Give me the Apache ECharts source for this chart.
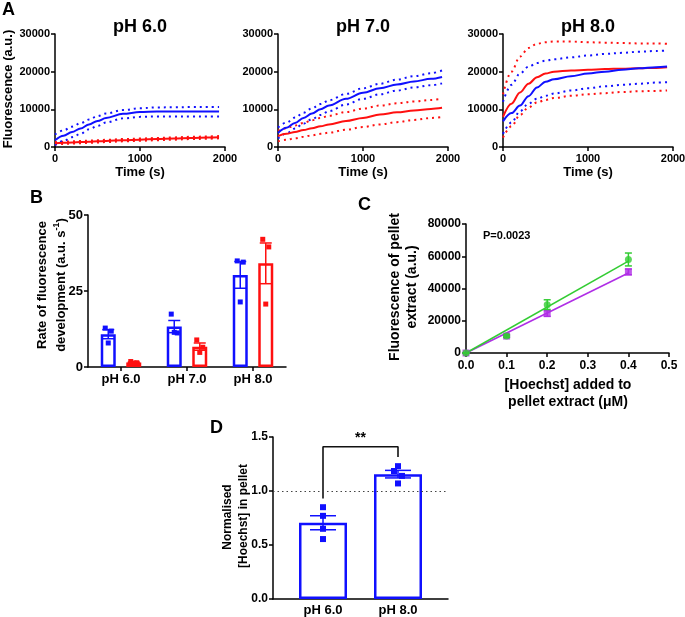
<!DOCTYPE html>
<html><head><meta charset="utf-8">
<script src="https://cdn.jsdelivr.net/npm/echarts@6/dist/echarts.min.js"></script>
<style>html,body{margin:0;padding:0;background:#fff}#c{width:685px;height:617px}</style>
</head><body><div id="c"></div>
<script>
// ---------- Panel A data (fluorescence vs time) ----------
const timeS = [0,100,200,300,400,500,600,800,1000,1200,1400,1600,1800,1930];
const aTitles = ['pH 6.0','pH 7.0','pH 8.0'];
const aXTicks = [0,1000,2000];
const aYTicks = [0,10000,20000,30000];

const blue6Mean  = [1800,3000,4000,4900,6000,6900,7700,8800,9300,9400,9450,9450,9450,9400];
const blue6Upper = [3300,4400,5400,6300,7300,8200,8900,9800,10300,10500,10550,10600,10600,10600];
const blue6Lower = [500,1600,2600,3500,4700,5600,6500,7600,8000,8100,8100,8100,8100,8100];
const red6Mean   = [1000,1100,1200,1300,1400,1500,1600,1800,1950,2100,2250,2400,2500,2600];
const red6Upper  = [1300,1400,1500,1600,1700,1800,1900,2100,2250,2400,2550,2700,2800,2900];
const red6Lower  = [700,800,900,1000,1100,1200,1300,1500,1650,1800,1950,2100,2200,2300];

const blue7Mean  = [3700,5100,6400,7700,8900,10000,11000,12800,14400,15600,16600,17400,18100,18600];
const blue7Upper = [5200,6500,7800,9100,10300,11400,12400,14100,15600,16800,17900,18800,19600,20300];
const blue7Lower = [2300,3600,4900,6200,7400,8500,9500,11300,12800,14000,15000,15800,16400,16900];
const red7Mean   = [2900,3500,4000,4500,5000,5500,6000,6900,7700,8600,9200,9700,10100,10400];
const red7Upper  = [4300,5000,5700,6400,7100,7700,8300,9300,10200,11000,11600,12100,12500,12800];
const red7Lower  = [1500,1900,2300,2700,3100,3500,3800,4600,5300,6000,6600,7200,7700,8000];

const blue8Mean  = [6800,9000,11000,13500,15800,17300,18000,18800,19500,20000,20500,20900,21200,21400];
const blue8Upper = [12000,16500,19500,21300,22300,22900,23300,23800,24300,24700,25000,25300,25500,25600];
const blue8Lower = [3500,6500,9500,11500,12800,13600,14200,15000,15600,16100,16500,16800,17100,17200];
const red8Mean   = [8000,11500,14500,16800,18500,19500,20000,20300,20500,20700,20800,20900,21000,21200];
const red8Upper  = [14000,20000,24000,26300,27400,27800,28000,28000,27800,27700,27600,27500,27500,27400];
const red8Lower  = [2500,5500,8500,10500,11800,12500,13000,13600,14000,14300,14600,14800,14900,15000];

// ---------- Panel B data (rate) ----------
const bCategories = ['pH 6.0','pH 7.0','pH 8.0'];
const rateBlueMean = [10.8, 13.3, 30.3];
const rateBlueSem  = [1.5, 2.0, 4.4];
const rateRedMean  = [1.5, 6.7, 34.1];
const rateRedSem   = [0.15, 1.2, 6.7];
const rateBluePts  = [[12.8,11.8,7.9],[17.4,11.2,11.4],[34.9,34.5,21.4]];
const rateRedPts   = [[1.8,1.4,1.3],[8.9,6.5,4.8],[42.0,39.5,20.7]];
const bYTicks = [0,25,50];

// ---------- Panel C data (standard curves) ----------
const hoechstConc = [0, 0.1, 0.2, 0.4];
const greenMean   = [0, 10500, 30000, 58000];
const greenSem    = [0, 700, 3000, 4000];
const purpleMean  = [0, 10500, 24500, 50300];
const purpleSem   = [0, 700, 1800, 1800];
const greenFit    = [[0,0],[0.4,57000]];
const purpleFit   = [[0,0],[0.4,49600]];
const pValueText  = 'P=0.0023';

// ---------- Panel D data (normalised Hoechst) ----------
const dCategories = ['pH 6.0','pH 8.0'];
const dMean = [0.706, 1.156];
const dSem  = [0.065, 0.035];
const dPts  = [[0.85,0.77,0.65,0.555],[1.23,1.185,1.14,1.07]];
const dRefLine = 1.0;
const dBracket = {start:0.93, top:1.41, end:1.315, label:'**'};

// ---------- styling ----------
const FF = '"Liberation Sans", Arial, Helvetica, sans-serif';
const BLUE = '#1010ff', RED = '#ff1010', GREEN = '#33cc33', PURPLE = '#b02ee6';
const plain = v => String(v);

function axisCommon(fs, margin, tick) {
  return {
    axisLine: {show:true, lineStyle:{color:'#000', width:1.5}},
    axisTick: {show: tick !== false, length:4, lineStyle:{color:'#000', width:1.5}},
    axisLabel: {color:'#000', fontWeight:'bold', fontSize:fs, fontFamily:FF, margin:margin, formatter:plain},
    splitLine: {show:false}
  };
}

const grids = [
  {left:55, top:34, width:170, height:113},
  {left:278, top:34, width:170, height:113},
  {left:503, top:34, width:170, height:113},
  {left:88, top:215, width:198, height:152},
  {left:466, top:224, width:203, height:129},
  {left:273, top:437, width:175, height:162}
].map(g => Object.assign({outerBoundsMode:'none', containLabel:false}, g));

const xAxes = [], yAxes = [];
for (let i = 0; i < 3; i++) {
  xAxes.push(Object.assign({type:'value', gridIndex:i, min:aXTicks[0], max:aXTicks[aXTicks.length-1],
    interval:aXTicks[1]-aXTicks[0]}, axisCommon(11, 6)));
  yAxes.push(Object.assign({type:'value', gridIndex:i, min:aYTicks[0], max:aYTicks[aYTicks.length-1],
    interval:aYTicks[1]-aYTicks[0]}, axisCommon(11, 5)));
}
// B
xAxes.push(Object.assign({type:'category', gridIndex:3, data:bCategories, boundaryGap:true}, axisCommon(13, 6)));
xAxes[3].axisTick.alignWithLabel = true;
yAxes.push(Object.assign({type:'value', gridIndex:3, min:bYTicks[0], max:bYTicks[2], interval:bYTicks[1]}, axisCommon(13, 5)));
// C
xAxes.push(Object.assign({type:'value', gridIndex:4, min:0, max:0.5, interval:0.1}, axisCommon(12, 7)));
xAxes[4].axisLabel.formatter = v => v.toFixed(1);
yAxes.push(Object.assign({type:'value', gridIndex:4, min:0, max:80000, interval:20000}, axisCommon(12, 5)));
// D
const dPos = dCategories.map((c,i) => 1 + 1.5*i);
xAxes.push(Object.assign({type:'value', gridIndex:5, min:0, max:3.5, interval:0.5}, axisCommon(13, 5, false)));
xAxes[5].axisLabel.formatter = v => { const k = dPos.findIndex(p => Math.abs(p - v) < 1e-6); return k >= 0 ? dCategories[k] : ''; };
yAxes.push(Object.assign({type:'value', gridIndex:5, min:0, max:1.5, interval:0.5}, axisCommon(12, 5)));
yAxes[5].axisLabel.formatter = v => v.toFixed(1);

const series = [];

// Panel A lines
const aSets = [
  [blue6Mean, blue6Upper, blue6Lower, red6Mean, red6Upper, red6Lower],
  [blue7Mean, blue7Upper, blue7Lower, red7Mean, red7Upper, red7Lower],
  [blue8Mean, blue8Upper, blue8Lower, red8Mean, red8Upper, red8Lower]
];
function aLine(gi, vals, color, dotted) {
  return {type:'line', xAxisIndex:gi, yAxisIndex:gi, data: timeS.map((t,k) => [t, vals[k]]),
    symbol:'none', smooth:0.35, smoothMonotone:'x', silent:true,
    lineStyle:{color:color, width:2, type: dotted ? [2,4] : 'solid'}, z: dotted ? 2 : 3};
}
aSets.forEach((s, gi) => {
  series.push(aLine(gi, s[4], RED, true), aLine(gi, s[5], RED, true));
  series.push(aLine(gi, s[1], BLUE, true), aLine(gi, s[2], BLUE, true));
  series.push(aLine(gi, s[3], RED, false), aLine(gi, s[0], BLUE, false));
});

// Panel B bars
const bBarW = 15, bGap = 10.5, bOff = (bBarW + bGap) / 2;
function bBar(vals, color) {
  return {type:'bar', xAxisIndex:3, yAxisIndex:3, data: vals, barWidth:bBarW, barGap:(bGap/bBarW*100)+'%',
    itemStyle:{color:'#fff', borderColor:color, borderWidth:2.5}, silent:true, z:2};
}
series.push(bBar(rateBlueMean, BLUE), bBar(rateRedMean, RED));

function errSeries(xi, yi, data, color, dx, cap, lw) {
  return {type:'custom', xAxisIndex:xi, yAxisIndex:yi, data:data, silent:true, z:5,
    renderItem: (params, api) => {
      const x = api.value(0), m = api.value(1), s = api.value(2);
      const t = api.coord([x, m + s]), b = api.coord([x, m - s]);
      const cx = t[0] + dx;
      const st = {stroke:color, lineWidth:lw, fill:null};
      return {type:'group', children:[
        {type:'line', shape:{x1:cx, y1:t[1], x2:cx, y2:b[1]}, style:st},
        {type:'line', shape:{x1:cx-cap, y1:t[1], x2:cx+cap, y2:t[1]}, style:st},
        {type:'line', shape:{x1:cx-cap, y1:b[1], x2:cx+cap, y2:b[1]}, style:st}
      ]};
    }};
}
function ptSeries(xi, yi, data, color, dx, jitter, size) {
  return {type:'custom', xAxisIndex:xi, yAxisIndex:yi, data:data, silent:true, z:6,
    renderItem: (params, api) => {
      const p = api.coord([api.value(0), api.value(1)]);
      const j = jitter[api.value(2) % jitter.length];
      return {type:'rect', shape:{x:p[0] + dx + j - size/2, y:p[1] - size/2, width:size, height:size},
        style:{fill:color}};
    }};
}
series.push(errSeries(3, 3, rateBlueMean.map((m,i) => [i, m, rateBlueSem[i]]), BLUE, -bOff, 6, 1.5));
series.push(errSeries(3, 3, rateRedMean.map((m,i) => [i, m, rateRedSem[i]]), RED, bOff, 6, 1.5));
const bJit = [-3, 3, 0];
const bBlueData = [], bRedData = [];
rateBluePts.forEach((arr, g) => arr.forEach((v, k) => bBlueData.push([g, v, k])));
rateRedPts.forEach((arr, g) => arr.forEach((v, k) => bRedData.push([g, v, k])));
series.push(ptSeries(3, 3, bBlueData, BLUE, -bOff, bJit, 5));
series.push(ptSeries(3, 3, bRedData, RED, bOff, bJit, 5));

// Panel C
series.push({type:'line', xAxisIndex:4, yAxisIndex:4, data:purpleFit, symbol:'none', silent:true,
  lineStyle:{color:PURPLE, width:1.6}, z:2});
series.push({type:'line', xAxisIndex:4, yAxisIndex:4, data:greenFit, symbol:'none', silent:true,
  lineStyle:{color:GREEN, width:1.6}, z:2});
series.push(errSeries(4, 4, hoechstConc.map((c,i) => [c, purpleMean[i], purpleSem[i]]), PURPLE, 0, 3.5, 1.5));
series.push({type:'scatter', xAxisIndex:4, yAxisIndex:4, data:hoechstConc.map((c,i) => [c, purpleMean[i]]),
  symbol:'rect', symbolSize:7, itemStyle:{color:PURPLE}, silent:true, z:4});
series.push(errSeries(4, 4, hoechstConc.map((c,i) => [c, greenMean[i], greenSem[i]]), GREEN, 0, 3.5, 1.5));
series.push({type:'scatter', xAxisIndex:4, yAxisIndex:4, data:hoechstConc.map((c,i) => [c, greenMean[i]]),
  symbol:'circle', symbolSize:7, itemStyle:{color:GREEN}, silent:true, z:7});

// Panel D
series.push({type:'bar', xAxisIndex:5, yAxisIndex:5, data: dMean.map((m,i) => [dPos[i], m]), barWidth:48,
  itemStyle:{color:'#fff', borderColor:BLUE, borderWidth:2.5}, silent:true, z:2,
  markLine:{silent:true, symbol:'none', label:{show:false}, animation:false,
    lineStyle:{type:[1.5,3], color:'#444', width:1.2}, data:[{yAxis:dRefLine}]}});
series.push(errSeries(5, 5, dMean.map((m,i) => [dPos[i], m, dSem[i]]), BLUE, 0, 13, 1.5));
const dData = [];
dPts.forEach((arr, g) => arr.forEach((v, k) => dData.push([dPos[g], v, k])));
series.push(ptSeries(5, 5, dData.slice(0,4), BLUE, 0, [0,0,0,0], 6));
series.push(ptSeries(5, 5, dData.slice(4), BLUE, 0, [0,-4,4,0], 6));
series.push({type:'line', xAxisIndex:5, yAxisIndex:5, silent:true, symbol:'none',
  data:[[dPos[0], dBracket.start],[dPos[0], dBracket.top],[dPos[1], dBracket.top],[dPos[1], dBracket.end]],
  lineStyle:{color:'#111', width:1.6}, z:4});
series.push({type:'custom', xAxisIndex:5, yAxisIndex:5, silent:true, z:6,
  data:[[(dPos[0]+dPos[1])/2, dBracket.top]],
  renderItem:(params, api) => {
    const p = api.coord([api.value(0), api.value(1)]);
    return {type:'text', x:p[0], y:p[1] - 2, style:{text:dBracket.label, font:'bold 14px ' + FF,
      fill:'#000', align:'center', verticalAlign:'bottom', textAlign:'center', textVerticalAlign:'bottom'}};
  }});

// ---------- text graphics ----------
function txt(text, x, y, size, opts) {
  opts = opts || {};
  const el = {type:'text', x:x, y:y, rotation: opts.rot ? Math.PI/2 : 0, silent:true, z:100,
    style:{text:text, font:'bold ' + size + 'px ' + FF, fill:'#000',
      align: opts.align || 'center', textAlign: opts.align || 'center',
      verticalAlign:'middle', textVerticalAlign:'middle'}};
  if (opts.rich) el.style.rich = opts.rich;
  return el;
}
const graphics = [
  txt('A', 2, 10, 18, {align:'left'}),
  txt('B', 30, 198, 18, {align:'left'}),
  txt('C', 358, 205, 18, {align:'left'}),
  txt('D', 210, 428, 18, {align:'left'}),
  txt('Fluorescence (a.u.)', 8, 89, 13, {rot:true}),
  txt('Rate of fluorescence', 42, 285, 13, {rot:true}),
  txt('{m|development (a.u. s}{s|-1}{m|)}', 60, 285, 13, {rot:true, rich:{
    m:{font:'bold 13px ' + FF, fill:'#000', lineHeight:16, verticalAlign:'bottom'},
    s:{font:'bold 9px ' + FF, fill:'#000', lineHeight:16, verticalAlign:'top', padding:[0,0,0,0]}}}),
  txt('Fluorescence of pellet', 395, 287, 14, {rot:true}),
  txt('extract (a.u.)', 412, 287, 14, {rot:true}),
  txt('[Hoechst] added to', 568, 385, 14),
  txt('pellet extract (\u03bcM)', 568, 402, 14),
  txt(pValueText, 483, 236, 11, {align:'left'}),
  txt('Normalised', 228, 517, 12, {rot:true}),
  txt('[Hoechst] in pellet', 244, 516, 12, {rot:true})
];
const aCenters = [140, 363, 588];
aCenters.forEach((cx, i) => {
  graphics.push(txt(aTitles[i], cx, 27, 18));
  graphics.push(txt('Time (s)', cx, 172, 13));
});

const chart = echarts.init(document.getElementById('c'), null, {renderer:'canvas'});
chart.setOption({
  animation:false,
  backgroundColor:'#fff',
  textStyle:{fontFamily:FF},
  grid:grids, xAxis:xAxes, yAxis:yAxes, series:series, graphic:graphics
});
</script></body></html>
